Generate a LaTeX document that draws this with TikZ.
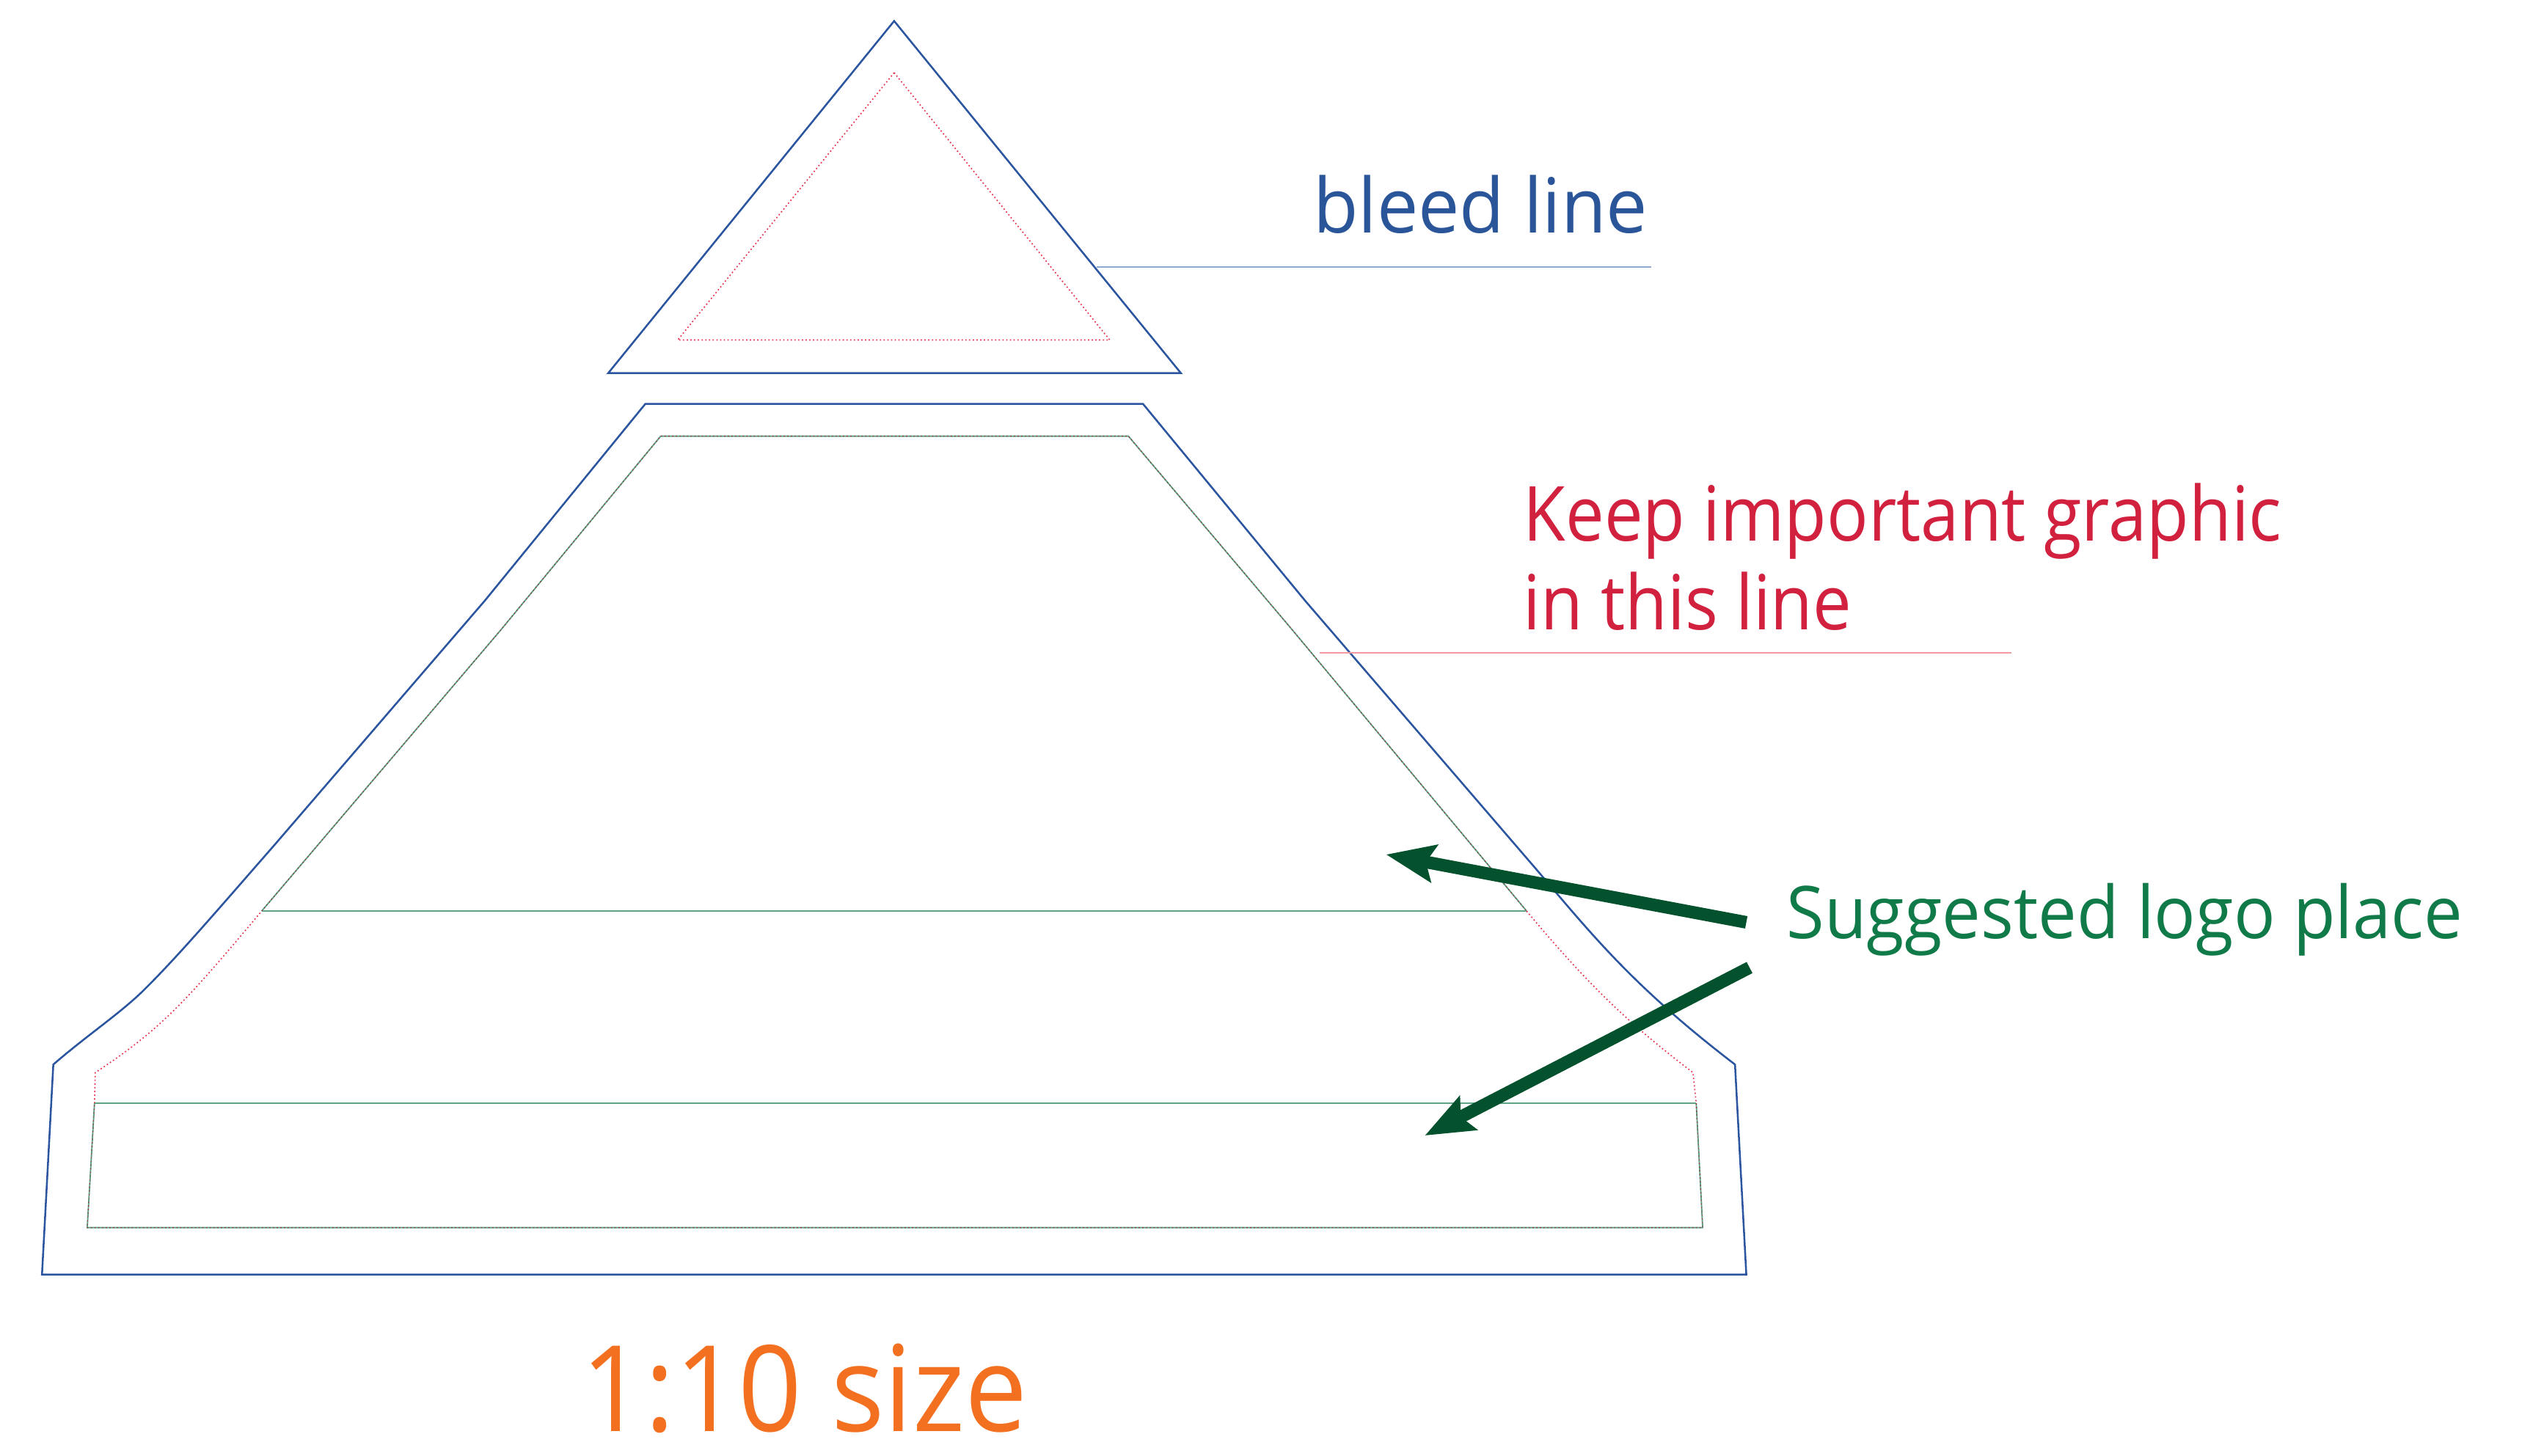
\documentclass[tikz,border=0pt]{standalone}
\usepackage{fontspec}
\setmainfont{Open Sans}
\newfontfamily\fa[FakeStretch=0.97]{Open Sans}
\newfontfamily\fb[FakeStretch=0.908]{Open Sans}
\newfontfamily\fc[FakeStretch=0.948]{Open Sans}
\newfontfamily\fd[FakeStretch=0.932]{Open Sans}
\usetikzlibrary{arrows.meta}
\definecolor{bleedblue}{HTML}{2B559F}
\definecolor{txtblue}{HTML}{2A5599}
\definecolor{safered}{HTML}{E8304F}
\definecolor{txtred}{HTML}{D2213F}
\definecolor{safegreen}{HTML}{5FA585}
\definecolor{txtgreen}{HTML}{107A48}
\definecolor{arrowgreen}{HTML}{03522D}
\definecolor{txtorange}{HTML}{F37021}
\definecolor{leadblue}{HTML}{8FA8CF}
\definecolor{leadred}{HTML}{F29A9F}
\tikzset{
  bleedpath/.style={draw=bleedblue,line width=1.15pt,line join=miter},
  dotred/.style={draw=safered,line width=.75pt,dash pattern=on .8pt off 1.5pt},
  dotfine/.style={draw=safered!70!black,line width=.4pt,dash pattern=on .8pt off 1.5pt},
  safegrn/.style={draw=safegreen,line width=.85pt},
  bigarrow/.style={draw=arrowgreen,line width=7.8pt,-{Stealth[length=30pt,width=23pt,inset=5pt]}},
  lab/.style={anchor=base west,inner sep=0pt,outer sep=0pt},
}
\begin{document}
\begin{tikzpicture}[x=1pt,y=-1pt]
\useasboundingbox (0,0) rectangle (1568,901);
% top triangle
\draw[bleedpath] (553.5,13) -- (731,231) -- (376.5,231) -- cycle;
\draw[dotred] (553.5,45) -- (687,210.5) -- (419.5,210.5) -- cycle;
% body outer
\draw[bleedpath] (399.5,250) -- (707.5,250) -- (808,372) -- (950,537)
  .. controls (985,578) and (1010,610) .. (1074,659) -- (1081,789) -- (26,789) -- (33,659)
  .. controls (55,640) and (75,627) .. (90,612)
  .. controls (112,590) and (135,563) .. (170,523)
  -- (300,372) -- cycle;
% body inner
\draw[safegrn] (162,564) -- (310,390) -- (409,270) -- (698.5,270) -- (800,390) -- (945,564);
\draw[safegrn] (162,564) -- (945,564);
\draw[safegrn] (58.5,683) -- (1050,683);
\draw[safegrn] (58.5,683) -- (54,760) -- (1054,760) -- (1050,683);
\draw[dotred] (945,564) .. controls (985,612) and (1010,635) .. (1048,664) -- (1050,683);
\draw[dotred] (58.5,683) -- (59,664) .. controls (100,637) and (115,620) .. (162,564);
\draw[dotfine] (1050,683) -- (1054,760) -- (54,760) -- (58.5,683);
\draw[dotfine] (162,564) -- (310,390) -- (409,270) -- (698.5,270) -- (800,390) -- (945,564);
% labels
\node[lab,text=txtblue,font=\fontsize{47}{47}\fa] (bleed) at (813,144) {bleed line};
\node[lab,text=txtred,font=\fontsize{47}{47}\fb] (keep) at (943,335) {Keep important graphic};
\node[lab,text=txtred,font=\fontsize{47}{47}\fb] (inl) at (943,390) {in this line};
\node[lab,text=txtgreen,font=\fontsize{45}{45}\fc] (logo) at (1106,581) {Suggested logo place};
\node[lab,text=txtorange,font=\fontsize{74}{74}\fd] (size) at (360,886) {1:10 size};
% leaders
\coordinate (l1a) at (679,165.5); \coordinate (l1b) at (1022,165.5);
\coordinate (l2a) at (817,404); \coordinate (l2b) at (1245,404);
\draw[leadblue,line width=.9pt] (l1a) -- (l1b);
\draw[leadred,line width=.9pt] (l2a) -- (l2b);
% arrows
\coordinate (a1s) at (1081,571); \coordinate (a1e) at (858,529);
\coordinate (a2s) at (1083,599); \coordinate (a2e) at (882,703);
\draw[bigarrow] (a1s) -- (a1e);
\draw[bigarrow] (a2s) -- (a2e);
\end{tikzpicture}
\end{document}
